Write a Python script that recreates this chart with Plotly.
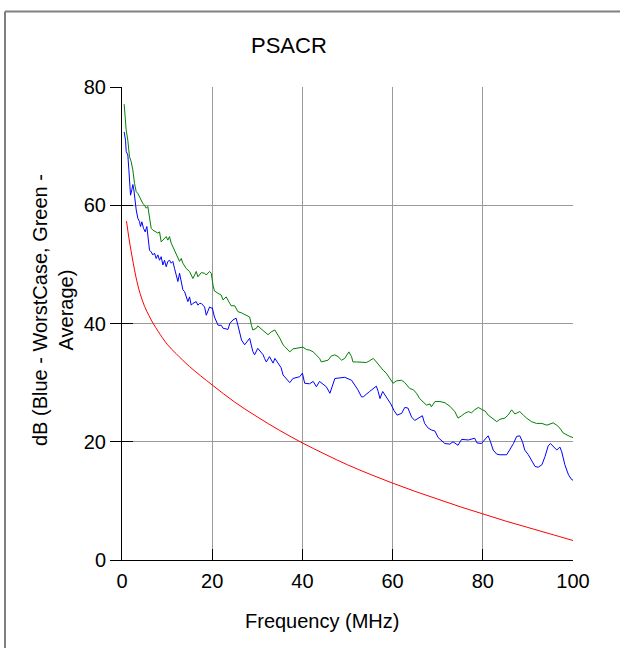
import plotly.graph_objects as go

# ---------------- data ----------------
green_freq = [0.48, 0.93, 1.29, 1.66, 2.03, 2.40, 2.77, 3.15, 3.51, 3.88, 4.26, 4.62, 4.99, 5.37, 5.73,
              6.10, 6.47, 6.84, 7.58, 7.95, 8.32, 8.69, 9.06, 9.80, 10.17, 10.54, 10.91, 11.28, 12.02,
              12.39, 12.76, 13.13, 13.50, 14.24, 14.98, 15.72, 16.46, 16.83, 17.57, 18.31, 18.68, 19.42,
              19.79, 20.2, 20.5, 21.3, 22.0, 22.4, 23.1, 23.9, 24.2, 25.0, 25.3, 25.7, 26.5, 26.8, 27.6,
              28.3, 28.7, 29.0, 29.8, 30.1, 31.3, 32.0, 32.4, 33.1, 33.9, 35.0, 35.3, 35.7, 36.1, 37.2,
              37.9, 38.7, 39.4, 40.1, 40.9, 41.6, 42.4, 43.1, 43.8, 44.2, 45.0, 45.7, 46.4, 47.2, 47.9,
              48.7, 49.4, 50.3, 50.9, 51.2, 52.0, 53.1, 54.2, 54.9, 55.7, 56.4, 57.2, 57.9, 58.6, 59.4,
              60.1, 60.9, 62.0, 62.7, 63.8, 64.6, 65.3, 66.0, 66.8, 67.5, 68.3, 68.6, 69.4, 70.5, 71.6,
              72.7, 73.8, 74.5, 75.3, 76.0, 76.8, 77.5, 78.2, 79.0, 79.7, 80.5, 81.2, 82.0, 83.1, 83.8,
              84.9, 85.6, 86.4, 87.1, 88.2, 89.0, 89.7, 90.8, 91.9, 93.1, 94.2, 94.9, 95.6, 96.4, 97.1,
              97.8, 98.6, 99.3, 100.0]
green_db = [77.1, 72.7, 71.0, 68.2, 67.4, 66.0, 63.7, 62.3, 62.0, 61.4, 60.9, 60.3, 60.0, 59.5, 59.8,
            58.1, 56.1, 55.8, 55.5, 55.3, 55.5, 53.8, 54.1, 54.7, 54.1, 54.7, 53.6, 53.0, 51.9,
            51.3, 50.5, 51.0, 50.2, 49.3, 48.8, 47.6, 48.8, 47.9, 48.6, 48.5, 48.2, 48.8,
            48.5, 46.4, 45.5, 45.1, 44.8, 44.0, 44.5, 43.4, 43.0, 43.0, 42.6, 42.0, 41.8, 41.7, 41.4,
            41.1, 39.7, 38.9, 39.2, 39.6, 38.8, 38.3, 38.1, 38.6, 38.9, 37.5, 36.9, 36.4, 36.1, 35.2,
            35.7, 35.8, 35.9, 36.0, 35.6, 35.5, 35.2, 34.7, 34.1, 33.5, 33.7, 33.8, 34.5, 34.7, 34.4,
            33.8, 34.1, 35.2, 34.4, 33.5, 33.5, 33.5, 33.4, 33.7, 34.1, 33.5, 32.7, 32.1, 31.6, 30.7,
            29.9, 30.3, 30.4, 30.0, 29.0, 28.8, 28.2, 27.3, 26.8, 26.2, 26.4, 25.9, 26.8, 26.8, 26.6,
            26.0, 25.1, 24.0, 24.4, 24.8, 25.1, 24.9, 25.4, 25.8, 25.5, 25.2, 24.5, 24.0, 23.4, 23.8,
            24.0, 24.5, 25.4, 24.7, 25.1, 24.5, 24.0, 23.4, 23.1, 23.1, 22.8, 23.0, 23.2, 22.8, 22.3,
            21.5, 21.1, 20.9, 20.7]

blue_freq = [0.48, 0.78, 0.93, 1.29, 1.52, 1.66, 1.89, 2.18, 2.40, 2.63, 2.92, 3.15, 3.51, 3.88, 4.11,
             4.40, 4.77, 5.14, 5.51, 5.88, 6.10, 6.47, 6.84, 7.21, 7.58, 7.95, 8.32, 8.69, 9.06, 9.43,
             9.80, 10.17, 10.54, 10.91, 11.28, 11.65, 12.02, 12.39, 12.76, 13.13, 13.50, 13.87, 14.24,
             14.61, 14.98, 15.35, 15.72, 16.46, 16.83, 17.20, 17.57, 17.94, 18.31, 18.68, 19.05, 19.42,
             19.79, 20.0, 20.5, 20.9, 21.3, 22.0, 22.4, 23.5, 23.9, 24.6, 25.3, 25.7, 26.1, 26.5, 27.2,
             28.3, 29.0, 29.4, 30.1, 31.3, 31.6, 32.0, 32.7, 33.5, 33.9, 35.0, 35.3, 35.7, 36.4, 37.2,
             37.9, 39.4, 40.0, 40.5, 41.6, 42.4, 43.1, 43.8, 45.3, 46.1, 47.2, 48.3, 49.4, 50.9, 51.6,
             52.3, 53.1, 53.5, 54.9, 55.7, 56.4, 56.8, 57.2, 57.8, 58.3, 59.0, 59.6, 60.3, 61.0, 62.0,
             62.7, 63.4, 64.2, 64.9, 65.7, 66.0, 66.6, 67.1, 67.9, 68.6, 69.4, 70.1, 70.9, 71.6, 72.7,
             73.4, 74.5, 75.3, 76.8, 78.2, 78.7, 79.7, 80.7, 81.2, 81.7, 82.3, 83.1, 83.8, 85.3, 86.0,
             86.8, 87.5, 88.2, 88.8, 89.3, 90.1, 90.8, 91.6, 92.3, 93.1, 93.8, 94.5, 95.0, 95.6, 96.4,
             97.1, 97.5, 98.2, 99.0, 99.7, 100.0]
blue_db = [72.4, 71.0, 69.1, 68.5, 66.0, 64.3, 61.7, 62.6, 63.5, 62.6, 60.3, 59.2, 57.8, 57.2, 56.4,
           57.2, 56.1, 55.5, 56.4, 54.1, 52.4, 52.1, 51.6, 51.9, 51.0, 51.6, 50.7, 51.3, 49.9, 50.7,
           49.6, 50.5, 50.7, 50.2, 50.5, 49.3, 47.9, 47.1, 48.5, 47.1, 45.7, 45.4, 44.3,
           43.7, 44.5, 43.1, 43.4, 43.7, 43.1, 43.4, 43.4, 43.1, 42.8, 41.4, 42.3, 42.8,
           42.6, 42.7, 41.1, 40.3, 39.7, 39.7, 39.2, 39.0, 40.0, 40.6, 40.9, 39.7, 38.3, 37.2, 36.4,
           37.5, 35.3, 34.7, 35.8, 34.7, 34.1, 33.5, 34.4, 33.3, 34.1, 33.0, 32.5, 31.3, 30.7, 30.0,
           30.7, 31.0, 31.6, 29.9, 29.8, 30.2, 29.3, 30.2, 29.3, 28.2, 30.7, 30.8, 30.9, 30.4, 29.6,
           28.8, 27.6, 27.6, 28.5, 29.0, 29.4, 28.5, 27.3, 28.5, 27.9, 27.1, 26.4, 25.3, 24.5, 24.8,
           25.8, 25.7, 24.2, 23.6, 24.0, 24.0, 24.4, 23.1, 22.3, 22.0, 21.8, 20.7, 20.2, 19.7, 19.6,
           20.0, 19.4, 20.4, 20.3, 20.6, 19.8, 19.7, 20.6, 21.0, 20.0, 18.6, 17.9, 17.8, 17.8, 18.6,
           19.7, 20.9, 21.0, 20.0, 18.6, 17.8, 16.9, 15.8, 15.7, 16.1, 17.5, 19.3, 19.7, 19.2, 18.6,
           19.1, 18.3, 16.1, 14.4, 13.6, 13.5]

red_freq = [1.0, 1.5, 2.0, 2.5, 3.0, 3.5, 4.0, 5.0, 6.0, 7.0, 8.0, 10.0, 12.0, 15.0, 20.0, 25.0, 30.0,
            35.0, 40.0, 45.0, 50.0, 55.0, 60.0, 65.0, 70.0, 75.0, 80.0, 85.0, 90.0, 95.0, 100.0]
red_db = [57.3, 54.6, 52.3, 50.2, 48.2, 46.5, 45.1, 42.9, 41.3, 39.9, 38.7, 36.5, 34.9, 32.7, 29.6,
          26.7, 24.2, 21.9, 19.8, 17.9, 16.1, 14.5, 13.0, 11.6, 10.3, 9.0, 7.8, 6.6, 5.5, 4.4, 3.3]

x_ticks = [0, 20, 40, 60, 80, 100]
y_ticks = [0, 20, 40, 60, 80]

title_text = "PSACR"
x_title = "Frequency (MHz)"
y_title = "dB (Blue - WorstCase, Green -<br>Average)"

# ---------------- layout geometry ----------------
W, H = 620, 648
L, R, T, B = 122, 47, 87, 88
PW, PH = W - L - R, H - T - B


def xp(px):
    return (px - L) / PW


def yp(py):
    return (H - B - py) / PH


FONT = "Liberation Sans, Arial, sans-serif"

fig = go.Figure()
fig.add_trace(go.Scatter(x=green_freq, y=green_db, mode="lines",
                         line=dict(color="#008000", width=1), name="Average"))
fig.add_trace(go.Scatter(x=blue_freq, y=blue_db, mode="lines",
                         line=dict(color="#0000ff", width=1), name="WorstCase"))
fig.add_trace(go.Scatter(x=red_freq, y=red_db, mode="lines", yaxis="y2",
                         line=dict(color="#ff0000", width=1, shape="spline"), name="Limit"))

fig.update_layout(
    width=W, height=H,
    margin=dict(l=L, r=R, t=T, b=B, pad=0),
    paper_bgcolor="white", plot_bgcolor="white",
    showlegend=False,
    font=dict(family=FONT, size=20, color="black"),
    xaxis=dict(range=[0, 100], tickvals=x_ticks, ticks="inside", ticklen=11, tickcolor="black",
               showline=True, linecolor="black", linewidth=1,
               showgrid=True, gridcolor="#9a9a9a", gridwidth=1, zeroline=False,
               tickfont=dict(size=20), ticklabelstandoff=3),
    yaxis=dict(range=[0, 80], tickvals=y_ticks, ticks="outside", ticklen=11, tickcolor="black",
               showline=True, linecolor="black", linewidth=1,
               showgrid=True, gridcolor="#9a9a9a", gridwidth=1, zeroline=False,
               tickfont=dict(size=20)),
    yaxis2=dict(range=[0, 80], tickvals=y_ticks, overlaying="y", side="left",
                ticks="inside", ticklen=11, tickcolor="black", showticklabels=False,
                showgrid=False, zeroline=False, showline=False),
)

# outer frame of the picture (top and left edges only)
frame_line = dict(color="#808080", width=2)
fig.add_shape(type="line", xref="paper", yref="paper",
              x0=xp(5), x1=xp(W + 50), y0=yp(11.5), y1=yp(11.5), line=frame_line, layer="below")
fig.add_shape(type="line", xref="paper", yref="paper",
              x0=xp(5), x1=xp(5), y0=yp(11.5), y1=yp(H + 50), line=frame_line, layer="below")

# titles
fig.add_annotation(text=title_text, xref="paper", yref="paper", x=xp(289), y=yp(45),
                   xanchor="center", yanchor="middle", showarrow=False,
                   font=dict(size=22, family=FONT, color="black"))
fig.add_annotation(text=x_title, xref="paper", yref="paper", x=xp(322), y=yp(621),
                   xanchor="center", yanchor="middle", showarrow=False,
                   font=dict(size=20, family=FONT, color="black"))
fig.add_annotation(text=y_title, xref="paper", yref="paper", x=xp(53), y=yp(310),
                   xanchor="center", yanchor="middle", showarrow=False, textangle=-90,
                   font=dict(size=20, family=FONT, color="black"))

fig.write_html("out.html", config={"displayModeBar": False},
               post_script="document.body.style.margin='0px';document.body.style.overflow='hidden';")
